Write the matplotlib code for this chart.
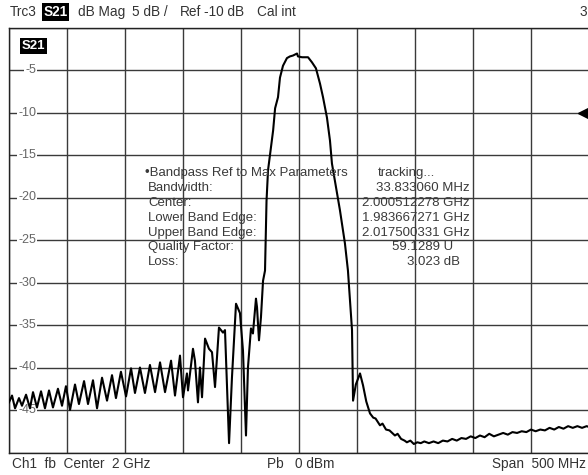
import matplotlib
matplotlib.use("Agg")
import matplotlib.pyplot as plt

plt.rcParams['font.family'] = ['Liberation Sans', 'DejaVu Sans']

# ---- data (frequency in MHz, S21 in dB) ----
freq_mhz = [
    1750.0, 1752.6, 1755.2, 1758.6, 1761.2, 1764.7, 1768.1, 1770.7, 1774.1, 1777.6,
    1781.0, 1784.5, 1787.9, 1792.2, 1795.7, 1799.1, 1802.6, 1806.9, 1810.3, 1814.7,
    1818.1, 1822.4, 1825.9, 1830.2, 1834.5, 1838.8, 1842.2, 1846.5, 1850.9, 1855.2,
    1858.6, 1862.9, 1867.2, 1871.5, 1875.9, 1880.2, 1884.5, 1889.7, 1893.1, 1897.4,
    1900.0, 1903.4, 1904.3, 1908.6, 1910.3, 1912.9, 1914.6, 1916.4, 1919.0, 1922.4,
    1925.0, 1927.6, 1931.0, 1934.5, 1936.2, 1939.7, 1942.2, 1945.7, 1949.1, 1951.7,
    1954.3, 1956.0, 1958.6, 1960.3, 1962.9, 1963.8, 1965.5, 1967.2, 1969.0, 1970.7,
    1971.2, 1972.0, 1973.3, 1977.7, 1979.4, 1981.9, 1983.6, 1986.2, 1989.6, 1992.2,
    1994.8, 1998.3, 1999.1, 2002.6, 2007.8, 2011.2, 2014.6, 2018.1, 2020.7, 2024.1,
    2026.7, 2028.4, 2035.3, 2039.6, 2042.2, 2045.7, 2046.6, 2049.0, 2052.6, 2055.2,
    2058.0, 2061.2, 2064.0, 2066.0, 2069.8, 2072.0, 2075.0, 2078.0, 2082.7, 2085.0,
    2088.0, 2091.0, 2093.0, 2096.0, 2099.0, 2102.0, 2105.0, 2108.0, 2112.0, 2116.0,
    2120.0, 2124.0, 2128.0, 2132.0, 2136.0, 2140.0, 2144.0, 2148.0, 2152.0, 2156.0,
    2160.0, 2164.0, 2168.0, 2172.0, 2176.0, 2180.0, 2184.0, 2188.0, 2192.0, 2196.0,
    2200.0, 2204.0, 2208.0, 2212.0, 2216.0, 2220.0, 2224.0, 2228.0, 2232.0, 2236.0,
    2240.0, 2244.0, 2248.0, 2250.0,
]
s21_db = [
    -44.1, -43.3, -44.8, -43.6, -44.5, -43.2, -44.8, -42.9, -44.7, -42.8,
    -44.8, -42.7, -44.7, -42.5, -44.5, -42.2, -45.0, -42.0, -44.3, -41.6,
    -44.3, -41.5, -44.8, -41.2, -43.9, -40.9, -43.6, -40.5, -43.4, -40.1,
    -43.0, -40.0, -43.0, -39.7, -42.9, -39.4, -42.9, -39.2, -43.3, -38.6,
    -43.5, -40.7, -42.7, -37.8, -39.2, -44.1, -40.0, -43.5, -36.6, -37.8,
    -38.2, -42.3, -35.3, -35.9, -35.6, -48.9, -41.2, -32.5, -33.6, -38.0,
    -48.0, -40.0, -35.4, -36.0, -31.9, -32.9, -36.8, -34.1, -29.8, -28.6,
    -25.4, -20.4, -16.8, -12.1, -9.5, -8.2, -5.9, -4.5, -3.6, -3.4,
    -3.3, -3.06, -3.4, -3.5, -3.5, -4.1, -4.8, -6.6, -8.2, -10.6,
    -13.3, -16.0, -21.5, -25.4, -28.6, -35.6, -43.9, -42.0, -40.7, -42.1,
    -44.0, -45.4, -45.9, -46.0, -46.8, -46.6, -47.3, -47.4, -48.0, -47.8,
    -48.4, -48.6, -48.8, -48.6, -49.0, -48.8, -48.9, -48.7, -48.9, -48.7,
    -48.9, -48.6, -48.7, -48.4, -48.6, -48.3, -48.4, -48.1, -48.3, -48.0,
    -48.2, -47.8, -48.1, -47.9, -47.7, -47.9, -47.6, -47.7, -47.5, -47.6,
    -47.3, -47.5, -47.3, -47.4, -47.1, -47.3, -47.0, -47.2, -46.9, -47.1,
    -46.9, -47.1, -46.9, -47.0,
]
y_ticks = [-5, -10, -15, -20, -25, -30, -35, -40, -45]

meas_labels = ["\u2022Bandpass Ref to Max Parameters", "Bandwidth:", "Center:",
               "Lower Band Edge:", "Upper Band Edge:", "Quality Factor:", "Loss:"]
meas_values = ["tracking...", "33.833060 MHz", "2.000512278 GHz", "1.983667271 GHz",
               "2.017500331 GHz", "59.1289 U", "3.023 dB"]

W, H = 588, 475
fig = plt.figure(figsize=(W / 100, H / 100), dpi=100)
fig.patch.set_facecolor('white')

def fx(px):
    return px / W

def fy(py):
    return 1 - py / H

ax_l, ax_t, ax_r, ax_b = 9, 27.5, 589, 452.5
ax = fig.add_axes([fx(ax_l), fy(ax_b), (ax_r - ax_l) / W, (ax_b - ax_t) / H])
ax.set_xlim(1750, 2250)
ax.set_ylim(-50, 0)
ax.set_xticks([1750 + 50 * i for i in range(11)])
ax.set_yticks([-5 * i for i in range(11)])
ax.tick_params(length=0, labelbottom=False, labelleft=False)
ax.grid(True, color='#3a3a3a', lw=1.0)
ax.set_axisbelow(True)
for s in ax.spines.values():
    s.set_color('#222222')
    s.set_linewidth(1.0)

ax.plot(freq_mhz, s21_db, color='black', lw=1.5, zorder=3)

# reference marker
ax.plot([2246], [-10], marker='<', color='black', markersize=8, clip_on=False, zorder=4)

# y tick labels inside plot
for v in y_ticks:
    ax.text(1773.5, v, str(v), ha='right', va='center', fontsize=9, color='#666666',
            bbox=dict(facecolor='white', edgecolor='none', pad=0.8), zorder=2)

# S21 badge inside
fig.text(fx(33.5), fy(46), "S21", ha='center', va='center', fontsize=9.5, color='white',
         fontweight='bold', bbox=dict(facecolor='black', edgecolor='none', pad=1.3))

# header
tc = '#333333'
fs = 9.8
hy = fy(12)
fig.text(fx(10), hy, "Trc3", ha='left', va='center', fontsize=fs, color=tc)
fig.text(fx(55.5), hy, "S21", ha='center', va='center', fontsize=fs, color='white',
         fontweight='bold', bbox=dict(facecolor='black', edgecolor='none', pad=1.3))
fig.text(fx(78), hy, "dB Mag", ha='left', va='center', fontsize=fs, color=tc)
fig.text(fx(132), hy, "5 dB /", ha='left', va='center', fontsize=fs, color=tc)
fig.text(fx(180), hy, "Ref", ha='left', va='center', fontsize=fs, color=tc)
fig.text(fx(204), hy, "-10 dB", ha='left', va='center', fontsize=fs, color=tc)
fig.text(fx(257), hy, "Cal int", ha='left', va='center', fontsize=fs, color=tc)
fig.text(fx(580), hy, "3", ha='left', va='center', fontsize=fs, color=tc)

# footer
by = fy(464)
fig.text(fx(12), by, "Ch1  fb  Center  2 GHz", ha='left', va='center', fontsize=fs, color=tc)
fig.text(fx(267), by, "Pb   0 dBm", ha='left', va='center', fontsize=fs, color=tc)
fig.text(fx(586), by, "Span  500 MHz", ha='right', va='center', fontsize=fs, color=tc)

# measurement block
mc = '#3a3a3a'
mfs = 9.5
for i, (lab, val) in enumerate(zip(meas_labels, meas_values)):
    yy = fy(173 + 14.9 * i)
    xl = 145 if i == 0 else 148
    fig.text(fx(xl), yy, lab, ha='left', va='center', fontsize=mfs, color=mc, zorder=5)
    if i == 0:
        fig.text(fx(378), yy, val, ha='left', va='center', fontsize=mfs, color=mc)
    elif i == 5:
        fig.text(fx(453), yy, val, ha='right', va='center', fontsize=mfs, color=mc)
    elif i == 6:
        fig.text(fx(460), yy, val, ha='right', va='center', fontsize=mfs, color=mc)
    else:
        fig.text(fx(470), yy, val, ha='right', va='center', fontsize=mfs, color=mc)

fig.savefig("out.png", dpi=100, facecolor='white')
